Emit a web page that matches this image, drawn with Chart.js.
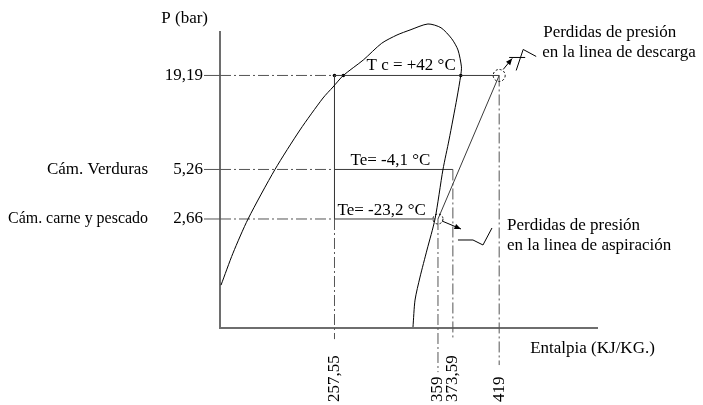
<!DOCTYPE html>
<html>
<head>
<meta charset="utf-8">
<title>Diagrama P-h del ciclo frigorífico</title>
<script src="https://cdn.jsdelivr.net/npm/chart.js@4.4.0/dist/chart.umd.min.js"></script>
<style>
  html, body { margin: 0; padding: 0; background: #fff; }
  #grafica { display: block; }
</style>
</head>
<body>
<canvas id="grafica" width="703" height="405"></canvas>
<script>
// ---------------------------------------------
// Datos del ciclo (presión en bar, entalpía en kJ/kg)
// ---------------------------------------------
const presiones = [19.19, 5.26, 2.66];
const etiquetasPresion = ["19,19", "5,26", "2,66"];
const camaras = ["", "Cám. Verduras", "Cám. carne y pescado"];

const entalpias = [257.55, 359, 373.59, 419];
const etiquetasEntalpia = ["257,55", "359", "373,59", "419"];

// Campana de saturación: líquido saturado (izq.) -> vapor saturado (der.)
const campanaH = [146.3, 158.0, 172.8, 199.2, 223.7, 246.3, 256.1, 266.2, 285.8, 303.8, 318.8, 331.6,
  349.2, 362.0, 372.5, 378.6, 382.0, 381.3, 377.6, 369.8, 363.9, 356.1, 348.2, 341.4, 336.5, 334.5];
const campanaP = [1.07, 1.66, 2.66, 5.26, 9.06, 14.07, 16.37, 19.19, 23.75, 29.89, 33.5, 35.89,
  38.99, 37.0, 31.8, 27.26, 21.6, 19.19, 14.07, 7.89, 5.26, 2.66, 1.735, 1.196, 0.871, 0.601];

// Fin de la evaporación a baja temperatura (corte con la campana)
const hFinEvapBaja = 356.1;
// Cortes de la campana con la línea de condensación
const puntosCond = [257.55, 266.2, 381.3];
// Presión hasta la que bajan las líneas de referencia bajo el eje
const corteGuias = [0.509, 0.323, 0.509, 0.356];

const temperaturas = ["T c = +42 °C", "Te= -4,1 °C", "Te= -23,2 °C"];

// Rango de los ejes
const hMin = 145.3, hMax = 514.9;
const pMin = 0.593, pMax = 34.91;

// ---------------------------------------------
// Estilos
// ---------------------------------------------
const FUENTE = '17px "Liberation Serif", "Times New Roman", serif';
const RAYA_PUNTO = [11, 3, 2, 3];
const GRIS = "#555";

const serie = (puntos, extra) => Object.assign({
  data: puntos,
  showLine: true,
  fill: false,
  pointRadius: 0,
  borderWidth: 1,
  borderColor: "#3a3a3a",
  tension: 0,
  clip: false
}, extra);

const pt = (h, p) => ({ x: h, y: p });

// ---------------------------------------------
// Series
// ---------------------------------------------
const [pCond, pMedia, pBaja] = presiones;
const [hLiq, hAsp, hMedia, hDesc] = entalpias;

const datasets = [
  // campana
  serie(campanaH.map((h, i) => pt(h, campanaP[i])), { borderColor: "#000", tension: 0.25 }),
  // condensación y evaporaciones
  serie([pt(hLiq, pCond), pt(hDesc, pCond)]),
  serie([pt(hLiq, pMedia), pt(hMedia, pMedia)]),
  serie([pt(hLiq, pBaja), pt(hFinEvapBaja, pBaja)]),
  // expansión
  serie([pt(hLiq, pCond), pt(hLiq, pBaja)]),
  // compresión
  serie([pt(hAsp, pBaja), pt(hDesc, pCond)]),
];

// líneas de referencia desde el eje de presiones
presiones.forEach((p) => {
  datasets.push(serie([pt(hMin, p), pt(hLiq, p)], { borderColor: GRIS, borderDash: RAYA_PUNTO }));
});

// líneas de referencia hacia el eje de entalpías
const inicioGuias = [pBaja, pBaja, pMedia, pCond];
entalpias.forEach((h, i) => {
  datasets.push(serie([pt(h, inicioGuias[i]), pt(h, corteGuias[i])],
    { borderColor: GRIS, borderDash: RAYA_PUNTO }));
});

// puntos sobre la línea de condensación
datasets.push({
  data: puntosCond.map((h) => pt(h, pCond)),
  showLine: false,
  pointRadius: 1.8,
  pointBackgroundColor: "#000",
  pointBorderWidth: 0,
  clip: false
});

// ---------------------------------------------
// Rótulos, marcas de los ejes y anotaciones
// ---------------------------------------------
function flecha(ctx, x1, y1, x2, y2) {
  const a = Math.atan2(y2 - y1, x2 - x1);
  ctx.beginPath();
  ctx.moveTo(x1, y1);
  ctx.lineTo(x2, y2);
  ctx.stroke();
  ctx.beginPath();
  ctx.moveTo(x2, y2);
  ctx.lineTo(x2 - 7 * Math.cos(a - 0.4), y2 - 7 * Math.sin(a - 0.4));
  ctx.lineTo(x2 - 7 * Math.cos(a + 0.4), y2 - 7 * Math.sin(a + 0.4));
  ctx.closePath();
  ctx.fill();
}

function trazo(ctx, pts) {
  ctx.beginPath();
  pts.forEach(([a, b], i) => (i ? ctx.lineTo(a, b) : ctx.moveTo(a, b)));
  ctx.stroke();
}

function circuloPunteado(ctx, cx, cy, r) {
  ctx.save();
  ctx.setLineDash([2, 2]);
  ctx.beginPath();
  ctx.arc(cx, cy, r, 0, Math.PI * 2);
  ctx.stroke();
  ctx.restore();
}

const rotulos = {
  id: "rotulos",
  afterDatasetsDraw(chart) {
    const { ctx, chartArea: area, scales } = chart;
    const x = scales.x, y = scales.y;
    ctx.save();
    ctx.font = FUENTE;
    ctx.fillStyle = "#000";
    ctx.strokeStyle = GRIS;
    ctx.lineWidth = 1;

    // eje de presiones
    y.ticks.forEach((t) => {
      const i = presiones.indexOf(t.value);
      const py = y.getPixelForValue(t.value);
      trazo(ctx, [[area.left - 16, py], [area.left, py]]);
      ctx.textAlign = "right";
      ctx.textBaseline = "middle";
      ctx.fillText(etiquetasPresion[i], area.left - 17, py);
      if (camaras[i]) ctx.fillText(camaras[i], area.left - 72, py, 140);
    });
    ctx.textAlign = "right";
    ctx.textBaseline = "alphabetic";
    ctx.fillText("P (bar)", area.left - 12, area.top - 9);

    // eje de entalpías (rótulos verticales)
    x.ticks.forEach((t) => {
      const i = entalpias.indexOf(t.value);
      const px = x.getPixelForValue(t.value);
      ctx.save();
      ctx.translate(px, area.bottom + 74);
      ctx.rotate(-Math.PI / 2);
      ctx.textAlign = "left";
      ctx.textBaseline = "middle";
      ctx.fillText(etiquetasEntalpia[i], 0, 0);
      ctx.restore();
    });
    ctx.textAlign = "left";
    ctx.textBaseline = "alphabetic";
    ctx.fillText("Entalpia (KJ/KG.)", x.getPixelForValue(hDesc) + 31, area.bottom + 25);

    // temperaturas de cambio de fase
    const xLiq = x.getPixelForValue(hLiq);
    ctx.fillText(temperaturas[0], xLiq + 32, y.getPixelForValue(pCond) - 5);
    ctx.fillText(temperaturas[1], xLiq + 16, y.getPixelForValue(pMedia) - 4);
    ctx.fillText(temperaturas[2], xLiq + 3, y.getPixelForValue(pBaja) - 4);

    ctx.strokeStyle = "#000";
    ctx.fillStyle = "#000";

    // pérdidas en la descarga
    const dx = x.getPixelForValue(hDesc), dy = y.getPixelForValue(pCond);
    circuloPunteado(ctx, dx, dy, 6);
    flecha(ctx, dx + 4, dy - 6, dx + 13, dy - 17);
    trazo(ctx, [[dx + 10, dy - 18], [dx + 26, dy - 18]]);
    trazo(ctx, [[dx + 17, dy - 5], [dx + 24, dy - 26], [dx + 37, dy - 19]]);
    ctx.fillText("Perdidas de presión", dx + 44, dy - 38);
    ctx.fillText("en la linea de descarga", dx + 43, dy - 18);

    // pérdidas en la aspiración
    const ax = x.getPixelForValue(hAsp), ay = y.getPixelForValue(pBaja);
    circuloPunteado(ctx, ax, ay, 5);
    flecha(ctx, ax + 4, ay + 2, ax + 23, ay + 10);
    trazo(ctx, [[ax + 20, ay + 21], [ax + 35, ay + 21], [ax + 45, ay + 26], [ax + 54, ay + 9]]);
    ctx.fillText("Perdidas de presión", ax + 69, ay + 11);
    ctx.fillText("en la linea de aspiración", ax + 69, ay + 31);

    ctx.restore();
  }
};

// ---------------------------------------------
// Gráfica
// ---------------------------------------------
new Chart(document.getElementById("grafica"), {
  type: "scatter",
  data: { datasets },
  options: {
    responsive: false,
    animation: false,
    events: [],
    layout: { padding: { left: 220, top: 32, right: 106, bottom: 77 } },
    plugins: { legend: { display: false }, tooltip: { enabled: false } },
    scales: {
      x: {
        type: "linear",
        min: hMin,
        max: hMax,
        bounds: "data",
        afterBuildTicks: (s) => { s.ticks = entalpias.map((v) => ({ value: v })); },
        ticks: { display: false },
        grid: { display: false, drawTicks: false },
        border: { display: true, color: "#6e6e6e", width: 2 }
      },
      y: {
        type: "logarithmic",
        min: pMin,
        max: pMax,
        bounds: "data",
        afterBuildTicks: (s) => { s.ticks = presiones.map((v) => ({ value: v })); },
        ticks: { display: false },
        grid: { display: false, drawTicks: false },
        border: { display: true, color: "#6e6e6e", width: 2 }
      }
    }
  },
  plugins: [rotulos]
});
</script>
</body>
</html>
